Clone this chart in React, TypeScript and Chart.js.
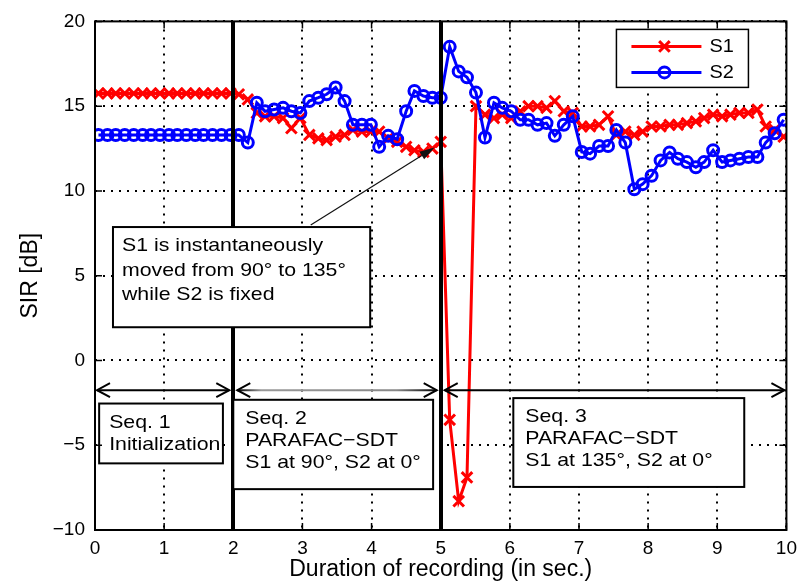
import React, { useEffect, useRef } from "react";
import { Chart, registerables } from "chart.js";

Chart.register(...registerables);

const FONT = '"Liberation Sans", Arial, Helvetica, sans-serif';

// ---- data ----
const times = [
  0.05, 0.18, 0.30, 0.43, 0.56, 0.69, 0.81, 0.94, 1.07, 1.19,
  1.32, 1.45, 1.57, 1.70, 1.83, 1.96, 2.08, 2.21, 2.34, 2.46,
  2.59, 2.72, 2.84, 2.97, 3.10, 3.23, 3.35, 3.48, 3.61, 3.73,
  3.86, 3.99, 4.11, 4.24, 4.37, 4.50, 4.62, 4.75, 4.88, 5.00,
  5.13, 5.26, 5.38, 5.51, 5.64, 5.77, 5.89, 6.02, 6.15, 6.27,
  6.40, 6.53, 6.65, 6.78, 6.91, 7.04, 7.16, 7.29, 7.42, 7.54,
  7.67, 7.80, 7.92, 8.05, 8.18, 8.31, 8.43, 8.56, 8.69, 8.81,
  8.94, 9.07, 9.19, 9.32, 9.45, 9.58, 9.70, 9.83, 9.96,
];

const sirS1 = [
  15.75, 15.75, 15.75, 15.75, 15.75, 15.75, 15.75, 15.75, 15.75, 15.75,
  15.75, 15.75, 15.75, 15.75, 15.75, 15.75,
  15.7, 15.4, 14.6, 14.4, 14.4, 14.3, 13.7, 14.3, 13.3, 13.1,
  13.0, 13.2, 13.3, 13.6, 13.5, 13.5, 13.5, 13.1, 12.9, 12.6,
  12.4, 12.3, 12.5, 12.9,
  -3.5, -8.3, -6.9,
  15.0, 14.5, 14.3, 14.5, 14.3, 14.7, 15.0, 15.0, 14.9, 15.3,
  14.7, 14.6, 13.8, 13.8, 13.9, 14.4, 13.3, 13.5, 13.3, 13.5,
  13.8, 13.8, 13.9, 13.9, 14.0, 14.1, 14.3, 14.5, 14.4, 14.5,
  14.6, 14.6, 14.8, 13.8, 13.6, 13.2,
];

const sirS2 = [
  13.3, 13.3, 13.3, 13.3, 13.3, 13.3, 13.3, 13.3, 13.3, 13.3,
  13.3, 13.3, 13.3, 13.3, 13.3, 13.3,
  13.3, 12.85, 15.2, 14.7, 14.8, 14.9, 14.7, 14.6, 15.3, 15.5,
  15.7, 16.1, 15.3, 13.9, 13.9, 13.9, 12.6, 13.25, 13.05, 14.7,
  15.9, 15.6, 15.5,
  15.5, 18.5, 17.05, 16.7, 15.8, 13.15, 15.2, 14.9, 14.7, 14.2,
  14.2, 13.9, 14.0, 13.25, 13.9, 14.4, 12.3, 12.2, 12.65, 12.65,
  13.6, 12.85, 10.1, 10.4, 10.9, 11.8, 12.27, 11.9, 11.7, 11.4,
  11.7, 12.4, 11.7, 11.8, 11.9, 12.0, 12.0, 12.85, 13.4, 14.2,
];

const seriesLabels = ["S1", "S2"];
const xTickValues = [0, 1, 2, 3, 4, 5, 6, 7, 8, 9, 10];
const yTickValues = [-10, -5, 0, 5, 10, 15, 20];
const seqBoundaries = [0, 2, 5, 10];
const seqTexts = [
  ["Seq. 1", "Initialization"],
  ["Seq. 2", "PARAFAC\u2212SDT", "S1 at 90\u00b0, S2 at 0\u00b0"],
  ["Seq. 3", "PARAFAC\u2212SDT", "S1 at 135\u00b0, S2 at 0\u00b0"],
];
const noteTexts = ["S1 is instantaneously", "moved from 90\u00b0 to 135\u00b0", "while S2 is fixed"];
const xTitle = "Duration of recording (in sec.)";
const yTitle = "SIR [dB]";

// ---- annotation placement (data coordinates) ----
const seqBoxes = [
  { x0: 0.06, x1: 1.85, y0: -2.54, y1: -6.07, tx: 10 },
  { x0: 2.0, x1: 4.89, y0: -2.32, y1: -7.59, tx: 12 },
  { x0: 6.05, x1: 9.39, y0: -2.22, y1: -7.46, tx: 12 },
];
const noteBox = { x0: 0.26, x1: 3.98, y0: 7.87, y1: 1.96, tx: 9 };
const noteArrow = { x0: 3.12, y0: 7.99, x1: 4.91, y1: 12.56 };
const seqArrowY = -1.75;

const TEXT_SIZE = 18.5;
const TEXT_SX = 1.15;

function drawText(ctx: CanvasRenderingContext2D, s: string, x: number, y: number, size = TEXT_SIZE, sx = TEXT_SX) {
  ctx.save();
  ctx.translate(x, y);
  ctx.scale(sx, 1);
  ctx.font = `${size}px ${FONT}`;
  ctx.textAlign = "left";
  ctx.textBaseline = "middle";
  ctx.fillStyle = "#000";
  ctx.fillText(s, 0, 0);
  ctx.restore();
}

function drawBox(ctx: CanvasRenderingContext2D, l: number, t: number, r: number, b: number, lines: string[], tx: number, first: number, spacing: number) {
  ctx.fillStyle = "#fff";
  ctx.fillRect(l, t, r - l, b - t);
  ctx.lineWidth = 2;
  ctx.strokeStyle = "#000";
  ctx.strokeRect(l, t, r - l, b - t);
  lines.forEach((s, i) => drawText(ctx, s, l + tx, t + first + i * spacing));
}

function chevron(ctx: CanvasRenderingContext2D, x: number, y: number, dir: number) {
  ctx.beginPath();
  ctx.moveTo(x - dir * 13, y - 7);
  ctx.lineTo(x, y);
  ctx.lineTo(x - dir * 13, y + 7);
  ctx.stroke();
}

const overlay = {
  id: "overlay",
  afterDatasetsDraw(chart: any) {
    const { ctx, chartArea: a } = chart;
    const xs = chart.scales.x;
    const ys = chart.scales.y;
    ctx.save();

    // thick separators between sequences
    ctx.strokeStyle = "#000";
    ctx.lineWidth = 4;
    [seqBoundaries[1], seqBoundaries[2]].forEach((b) => {
      const px = Math.round(xs.getPixelForValue(b));
      ctx.beginPath();
      ctx.moveTo(px, a.top);
      ctx.lineTo(px, a.bottom);
      ctx.stroke();
    });

    // double arrows for the sequences
    const ay = ys.getPixelForValue(seqArrowY);
    ctx.lineWidth = 2;
    for (let i = 0; i < 3; i++) {
      const xa = xs.getPixelForValue(seqBoundaries[i]) + (i === 0 ? 2 : 4);
      const xb = xs.getPixelForValue(seqBoundaries[i + 1]) - (i === 2 ? 2 : 4);
      if (i === 1) {
        const g = ctx.createLinearGradient(xa, 0, xb, 0);
        g.addColorStop(0, "#000");
        g.addColorStop(0.12, "#999");
        g.addColorStop(0.8, "#888");
        g.addColorStop(1, "#000");
        ctx.strokeStyle = g;
      } else {
        ctx.strokeStyle = "#000";
      }
      ctx.beginPath();
      ctx.moveTo(xa, ay);
      ctx.lineTo(xb, ay);
      ctx.stroke();
      ctx.strokeStyle = "#000";
      chevron(ctx, xa, ay, -1);
      chevron(ctx, xb, ay, 1);
    }

    // sequence boxes
    seqBoxes.forEach((bx, i) => {
      const l = xs.getPixelForValue(bx.x0);
      const r = xs.getPixelForValue(bx.x1);
      const t = ys.getPixelForValue(bx.y0);
      const b = ys.getPixelForValue(bx.y1);
      drawBox(ctx, l, t, r, b, seqTexts[i], bx.tx, 19, 22);
    });

    // note box + arrow
    {
      const l = xs.getPixelForValue(noteBox.x0);
      const r = xs.getPixelForValue(noteBox.x1);
      const t = ys.getPixelForValue(noteBox.y0);
      const b = ys.getPixelForValue(noteBox.y1);
      drawBox(ctx, l, t, r, b, noteTexts, noteBox.tx, 19, 24.5);
      const x0 = xs.getPixelForValue(noteArrow.x0);
      const y0 = ys.getPixelForValue(noteArrow.y0);
      const x1 = xs.getPixelForValue(noteArrow.x1);
      const y1 = ys.getPixelForValue(noteArrow.y1);
      const ang = Math.atan2(y1 - y0, x1 - x0);
      const hl = 15, hw = 4.5;
      ctx.strokeStyle = "#111";
      ctx.lineWidth = 1.2;
      ctx.beginPath();
      ctx.moveTo(x0, y0);
      ctx.lineTo(x1 - hl * Math.cos(ang), y1 - hl * Math.sin(ang));
      ctx.stroke();
      ctx.fillStyle = "#111";
      ctx.beginPath();
      ctx.moveTo(x1, y1);
      ctx.lineTo(x1 - hl * Math.cos(ang) + hw * Math.sin(ang), y1 - hl * Math.sin(ang) - hw * Math.cos(ang));
      ctx.lineTo(x1 - hl * Math.cos(ang) - hw * Math.sin(ang), y1 - hl * Math.sin(ang) + hw * Math.cos(ang));
      ctx.closePath();
      ctx.fill();
    }

    // plot frame
    ctx.strokeStyle = "#000";
    ctx.lineWidth = 2;
    ctx.strokeRect(a.left, a.top, a.right - a.left, a.bottom - a.top);

    // inward ticks on all sides
    ctx.lineWidth = 1.5;
    const tl = 7;
    xTickValues.forEach((v) => {
      const px = xs.getPixelForValue(v);
      ctx.beginPath();
      ctx.moveTo(px, a.bottom);
      ctx.lineTo(px, a.bottom - tl);
      ctx.moveTo(px, a.top);
      ctx.lineTo(px, a.top + tl);
      ctx.stroke();
    });
    yTickValues.forEach((v) => {
      const py = ys.getPixelForValue(v);
      ctx.beginPath();
      ctx.moveTo(a.left, py);
      ctx.lineTo(a.left + tl, py);
      ctx.moveTo(a.right, py);
      ctx.lineTo(a.right - tl, py);
      ctx.stroke();
    });

    // legend
    {
      const w = 132, h = 58;
      const l = a.right - 38 - w;
      const t = a.top + 8;
      ctx.fillStyle = "#fff";
      ctx.fillRect(l, t, w, h);
      ctx.strokeStyle = "#000";
      ctx.lineWidth = 1.5;
      ctx.strokeRect(l, t, w, h);
      chart.data.datasets.forEach((ds: any, i: number) => {
        const yy = t + 17 + i * 26;
        ctx.strokeStyle = ds.borderColor;
        ctx.lineWidth = ds.borderWidth;
        ctx.beginPath();
        ctx.moveTo(l + 15, yy);
        ctx.lineTo(l + 85, yy);
        ctx.stroke();
        const mx = l + 48;
        ctx.lineWidth = ds.pointBorderWidth;
        ctx.beginPath();
        if (ds.pointStyle === "crossRot") {
          const r = ds.pointRadius * 0.7071;
          ctx.moveTo(mx - r, yy - r);
          ctx.lineTo(mx + r, yy + r);
          ctx.moveTo(mx - r, yy + r);
          ctx.lineTo(mx + r, yy - r);
        } else {
          ctx.arc(mx, yy, ds.pointRadius, 0, Math.PI * 2);
        }
        ctx.stroke();
        drawText(ctx, ds.label, l + 93, yy, 19, 1.05);
      });
    }

    ctx.restore();
  },
};

export default function App() {
  const ref = useRef<HTMLCanvasElement>(null);

  useEffect(() => {
    const canvas = ref.current;
    if (!canvas) return;
    const tickFont = { size: 19, family: FONT };
    const titleFont = { size: 23, family: FONT };
    const chart = new Chart(canvas, {
      type: "line",
      data: {
        datasets: [
          {
            label: seriesLabels[0],
            data: times.map((t, i) => ({ x: t, y: sirS1[i] })),
            borderColor: "#ff0000",
            backgroundColor: "#ff0000",
            borderWidth: 3,
            pointStyle: "crossRot",
            pointRadius: 7.5,
            pointBorderWidth: 3,
            pointBorderColor: "#ff0000",
            pointBackgroundColor: "#ff0000",
            tension: 0,
            order: 1,
          },
          {
            label: seriesLabels[1],
            data: times.map((t, i) => ({ x: t, y: sirS2[i] })),
            borderColor: "#0000ff",
            backgroundColor: "rgba(0,0,0,0)",
            borderWidth: 3,
            pointStyle: "circle",
            pointRadius: 5.5,
            pointBorderWidth: 3,
            pointBorderColor: "#0000ff",
            pointBackgroundColor: "rgba(0,0,0,0)",
            tension: 0,
            order: 0,
          },
        ],
      },
      options: {
        animation: false,
        responsive: false,
        devicePixelRatio: 1,
        layout: { padding: { top: 18, right: 16, bottom: 0, left: 0 } },
        plugins: { legend: { display: false }, tooltip: { enabled: false } },
        scales: {
          x: {
            type: "linear",
            min: 0,
            max: 10,
            afterBuildTicks: (s: any) => {
              s.ticks = xTickValues.map((v) => ({ value: v }));
            },
            afterFit: (s: any) => {
              s.height = 54;
            },
            ticks: { font: tickFont, color: "#000", padding: 7, maxRotation: 0, autoSkip: false },
            grid: { color: "#000", lineWidth: 2, drawTicks: false },
            border: { display: false, dash: [2, 6] },
            title: { display: true, text: xTitle, font: titleFont, color: "#000", padding: { top: 0, bottom: 1 } },
          },
          y: {
            type: "linear",
            min: -10,
            max: 20,
            afterBuildTicks: (s: any) => {
              s.ticks = yTickValues.map((v) => ({ value: v }));
            },
            afterFit: (s: any) => {
              s.width = 95;
            },
            ticks: {
              font: tickFont,
              color: "#000",
              padding: 10,
              autoSkip: false,
              callback: (v: any) => String(v).replace("-", "\u2212"),
            },
            grid: { color: "#000", lineWidth: 2, drawTicks: false },
            border: { display: false, dash: [2, 6] },
            title: { display: true, text: yTitle, font: titleFont, color: "#000", padding: { top: 17, bottom: 0 } },
          },
        },
      },
      plugins: [overlay],
    } as any);
    return () => chart.destroy();
  }, []);

  return (
    <div style={{ position: "absolute", left: 0, top: 0, width: 804, height: 584, background: "#fff" }}>
      <canvas ref={ref} width={804} height={584} style={{ display: "block", width: 804, height: 584 }} />
    </div>
  );
}
